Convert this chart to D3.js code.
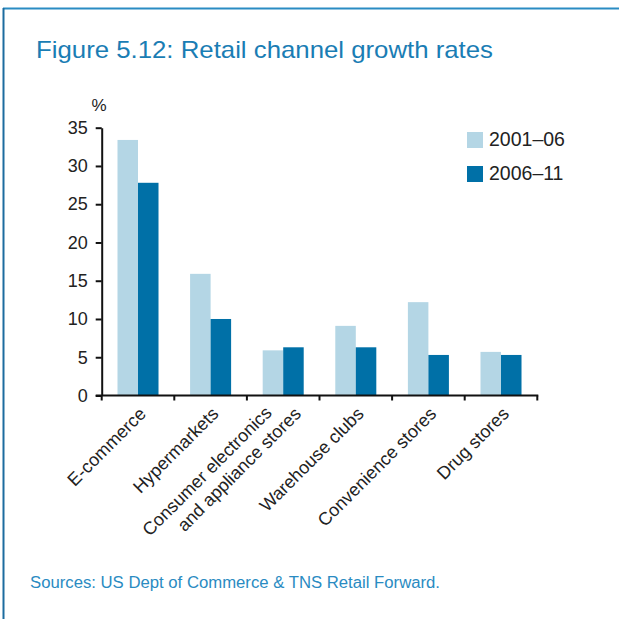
<!DOCTYPE html>
<html>
<head>
<meta charset="utf-8">
<script src="https://cdn.jsdelivr.net/npm/d3@7"></script>
<style>
  html, body { margin: 0; padding: 0; background: #fff; }
  svg { display: block; }
  text { font-family: "Liberation Sans", Arial, Helvetica, sans-serif; }
</style>
</head>
<body>
<svg id="chart" width="619" height="619"></svg>
<script>
// Retail channel growth, % per period
const categories = [
  "E-commerce",
  "Hypermarkets",
  "Consumer electronics\nand appliance stores",
  "Warehouse clubs",
  "Convenience stores",
  "Drug stores"
];
const seriesNames = ["2001–06", "2006–11"];
const values2001to06 = [33.4, 15.9, 5.9, 9.1, 12.2, 5.7];
const values2006to11 = [27.8, 10.0, 6.3, 6.3, 5.3, 5.3];
const yTickValues = [0, 5, 10, 15, 20, 25, 30, 35];

const seriesValues = [values2001to06, values2006to11];
const seriesColors = ["#b4d6e5", "#0070a7"];
const rows = categories.map((c, i) => ({
  category: c,
  values: seriesNames.map((s, k) => ({ series: s, value: seriesValues[k][i], color: seriesColors[k] }))
}));

const svg = d3.select("#chart");
svg.append("rect").attr("width", 619).attr("height", 619).attr("fill", "#fff");

// Panel frame (top and left rules)
svg.append("line").attr("x1", 3).attr("x2", 619).attr("y1", 8.5).attr("y2", 8.5)
  .attr("stroke", "#2a8cc3").attr("stroke-width", 2);
svg.append("line").attr("x1", 3.5).attr("x2", 3.5).attr("y1", 8).attr("y2", 619)
  .attr("stroke", "#1c6c9f").attr("stroke-width", 2);

// Title
svg.append("text")
  .attr("x", 36).attr("y", 58)
  .attr("font-size", 24)
  .attr("fill", "#1a7db4")
  .attr("textLength", 457).attr("lengthAdjust", "spacingAndGlyphs")
  .text("Figure 5.12: Retail channel growth rates");

// Scales
const x0 = d3.scaleBand().domain(categories).range([101.7, 537.3]).paddingInner(0).paddingOuter(0);
const x1 = d3.scaleBand().domain(seriesNames).range([0, x0.bandwidth()]).paddingInner(0).paddingOuter(0.77);
const y = d3.scaleLinear().domain([0, 35]).range([395.5, 127.7]);

// Bars
const groups = svg.append("g").selectAll("g").data(rows).join("g")
  .attr("transform", d => `translate(${x0(d.category)},0)`);
groups.selectAll("rect").data(d => d.values).join("rect")
  .attr("x", d => x1(d.series))
  .attr("width", x1.bandwidth())
  .attr("y", d => y(d.value))
  .attr("height", d => y(0) - y(d.value))
  .attr("fill", d => d.color);

// Y axis
const yAxis = svg.append("g")
  .attr("transform", `translate(${x0.range()[0]},0)`)
  .call(d3.axisLeft(y).tickValues(yTickValues).tickSize(6).tickSizeOuter(0).tickPadding(8));
yAxis.select(".domain").attr("stroke", "#111").attr("stroke-width", 2);
yAxis.selectAll(".tick line").attr("stroke", "#111").attr("stroke-width", 2);
yAxis.selectAll(".tick text")
  .attr("font-size", 18).attr("fill", "#222")
  .attr("font-family", "'Liberation Sans', Arial, sans-serif");

// Unit label
svg.append("text").attr("x", 99).attr("y", 111).attr("text-anchor", "middle")
  .attr("font-size", 17).attr("fill", "#222").text("%");

// X axis: baseline with ticks at band boundaries
const xAxis = svg.append("g");
const [xr0, xr1] = x0.range();
xAxis.append("line")
  .attr("x1", xr0 - 6).attr("x2", xr1 + 1)
  .attr("y1", y(0)).attr("y2", y(0))
  .attr("stroke", "#111").attr("stroke-width", 2);
const boundaries = categories.map(c => x0(c)).concat([xr1]);
xAxis.selectAll("line.tick").data(boundaries).join("line")
  .attr("class", "tick")
  .attr("x1", d => d).attr("x2", d => d)
  .attr("y1", y(0)).attr("y2", y(0) + 5)
  .attr("stroke", "#111").attr("stroke-width", 2);

// Rotated category labels
const labels = xAxis.selectAll("g.label").data(categories).join("g")
  .attr("class", "label")
  .attr("transform", c => `translate(${x0(c) + x0.bandwidth() / 2 + 9},${415}) rotate(-45)`);
labels.each(function (c) {
  const lines = c.split("\n");
  const n = lines.length;
  const t = d3.select(this).append("text")
    .attr("text-anchor", "end")
    .attr("font-size", 18)
    .attr("fill", "#222");
  lines.forEach((ln, i) => {
    const lx = n > 1 ? -13 + 20 * i : 0;
    const ly = n > 1 ? -14.5 + 21.5 * i : 0;
    t.append("tspan").attr("x", lx).attr("y", ly).text(ln);
  });
});

// Legend
const legend = svg.append("g").selectAll("g").data(seriesNames).join("g")
  .attr("transform", (d, i) => `translate(467,${132 + i * 34})`);
legend.append("rect").attr("width", 16).attr("height", 16)
  .attr("fill", (d, i) => seriesColors[i]);
legend.append("text").attr("x", 22).attr("y", 14)
  .attr("font-size", 19.5).attr("fill", "#222")
  .text(d => d);

// Source note
svg.append("text")
  .attr("x", 30).attr("y", 588)
  .attr("font-size", 16)
  .attr("fill", "#2a8bc2")
  .attr("textLength", 410).attr("lengthAdjust", "spacingAndGlyphs")
  .text("Sources: US Dept of Commerce & TNS Retail Forward.");
</script>
</body>
</html>
